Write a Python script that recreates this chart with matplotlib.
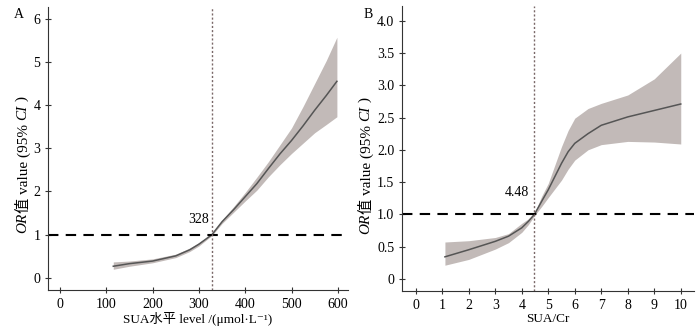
import matplotlib
matplotlib.use("Agg")
import matplotlib.pyplot as plt

plt.rcParams["font.family"] = ["Liberation Serif", "Noto Sans CJK SC", "DejaVu Sans"]

# ---------------------------------------------------------------------------
# Data
# ---------------------------------------------------------------------------
sua_x = [115, 150, 200, 250, 280, 300, 328, 350, 375, 400, 425, 450, 475, 500, 525, 550, 575, 598]
sua_or = [0.27, 0.33, 0.39, 0.51, 0.65, 0.78, 1.00, 1.30, 1.58, 1.88, 2.18, 2.53, 2.87, 3.18, 3.52, 3.88, 4.22, 4.55]
sua_lo = [0.20, 0.27, 0.35, 0.47, 0.61, 0.74, 0.98, 1.26, 1.52, 1.78, 2.03, 2.34, 2.62, 2.88, 3.12, 3.36, 3.55, 3.73]
sua_hi = [0.37, 0.39, 0.44, 0.55, 0.69, 0.82, 1.02, 1.34, 1.65, 1.98, 2.33, 2.69, 3.08, 3.47, 3.97, 4.50, 5.03, 5.57]
sua_cut = 328

ratio_x = [1.1, 2, 3, 3.5, 4, 4.25, 4.48, 4.75, 5, 5.5, 5.75, 6, 6.5, 7, 8, 9, 10]
ratio_or = [0.34, 0.45, 0.58, 0.66, 0.79, 0.89, 1.00, 1.20, 1.38, 1.79, 1.97, 2.10, 2.25, 2.38, 2.51, 2.61, 2.71]
ratio_lo = [0.21, 0.30, 0.46, 0.56, 0.72, 0.84, 0.98, 1.12, 1.26, 1.53, 1.70, 1.84, 2.00, 2.08, 2.13, 2.12, 2.09]
ratio_hi = [0.57, 0.59, 0.64, 0.70, 0.86, 0.93, 1.02, 1.28, 1.48, 2.05, 2.30, 2.49, 2.64, 2.72, 2.85, 3.10, 3.50]
ratio_cut = 4.48

BAND = "#c2bab8"
CURVE = "#555555"


def _ylabel(ax, x):
    """Rotated y label with italic OR / CI pieces, stacked bottom to top."""
    pieces = [("OR", "italic"), ("值 value (95% ", "normal"), ("CI", "italic"), (" )", "normal")]
    prev = None
    for txt, style in pieces:
        kw = dict(rotation=90, ha="center", va="bottom", fontsize=11, fontstyle=style)
        if prev is None:
            prev = ax.text(x, 0.20, txt, transform=ax.transAxes, **kw)
        else:
            prev = ax.annotate(txt, xy=(0.5, 1.0), xycoords=prev, **kw)


def _panel(ax, x, y, lo, hi, cut, label_txt, label_xy):
    ax.fill_between(x, lo, hi, color=BAND, lw=0)
    ax.plot(x, y, color=CURVE, lw=1.1)
    ax.axhline(1, color="black", lw=1.5, ls=(0, (5, 3.5)))
    ax.axvline(cut, color="#7a6868", lw=1.0, ls=(0, (1.5, 1.5)))
    ax.text(*label_xy, label_txt, fontsize=10, ha="center", va="center")
    for s in ("top", "right"):
        ax.spines[s].set_visible(False)
    ax.spines["left"].set_color("#333333")
    ax.spines["bottom"].set_color("#333333")
    ax.tick_params(direction="inout", length=4, width=0.8, labelsize=10, color="#333333")


fig = plt.figure(figsize=(7.0, 3.26), dpi=100)

# Panel A
axA = fig.add_axes([48 / 700, 36 / 326, 300 / 700, 283 / 326])
_panel(axA, sua_x, sua_or, sua_lo, sua_hi, sua_cut, "328", (300, 1.36))
axA.set_xlim(-26, 622)
axA.set_ylim(-0.28, 6.27)
axA.set_xticks([0, 100, 200, 300, 400, 500, 600])
axA.set_yticks([0, 1, 2, 3, 4, 5, 6])
axA.set_xlabel("SUA水平 level /(μmol·L⁻¹)", fontsize=9.5, labelpad=1)
_ylabel(axA, -0.085)
fig.text(19 / 700, 1 - 14 / 326, "A", fontsize=10, ha="center", va="center")

# Panel B
axB = fig.add_axes([402 / 700, 35 / 326, 292 / 700, 285 / 326])
_panel(axB, ratio_x, ratio_or, ratio_lo, ratio_hi, ratio_cut, "4.48", (3.82, 1.34))
axB.set_xlim(-0.52, 10.5)
axB.set_ylim(-0.19, 4.23)
axB.set_xticks(range(0, 11))
axB.set_yticks([0, 0.5, 1.0, 1.5, 2.0, 2.5, 3.0, 3.5, 4.0])
axB.set_yticklabels(["0", "0.5", "1.0", "1.5", "2.0", "2.5", "3.0", "3.5", "4.0"])
axB.set_xlabel("SUA/Cr", fontsize=9.5, labelpad=1)
_ylabel(axB, -0.125)
fig.text(368 / 700, 1 - 14 / 326, "B", fontsize=10, ha="center", va="center")

fig.savefig("out.png", dpi=100)
